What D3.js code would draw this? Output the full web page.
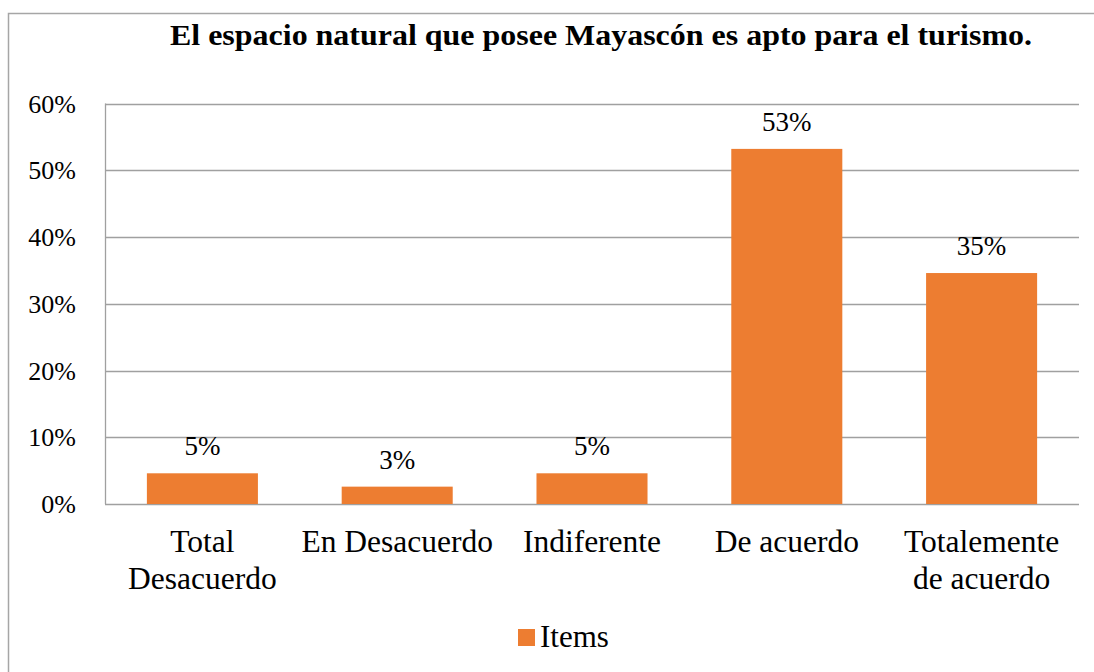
<!DOCTYPE html>
<html>
<head>
<meta charset="utf-8">
<script src="https://cdn.jsdelivr.net/npm/d3@7"></script>
<style>
  body { margin: 0; background: #fff; }
  svg text { font-family: "Liberation Serif", "Times New Roman", serif; fill: #000; }
</style>
</head>
<body>
<svg id="chart" width="1094" height="672"></svg>
<script>
// chart data
var categories = [["Total", "Desacuerdo"], ["En Desacuerdo"], ["Indiferente"], ["De acuerdo"], ["Totalemente", "de acuerdo"]];
var values = [0.046, 0.026, 0.046, 0.532, 0.346];
var valueLabels = ["5%", "3%", "5%", "53%", "35%"];
var yTicks = [0, 0.1, 0.2, 0.3, 0.4, 0.5, 0.6];
var seriesName = "Items";
var title = "El espacio natural que posee Mayascón es apto para el turismo.";

var svg = d3.select("#chart");

// outer chart border
svg.append("rect")
    .attr("x", 8.5).attr("y", 13.5)
    .attr("width", 1200).attr("height", 800)
    .style("fill", "none")
    .style("stroke", "#a6a6a6")
    .style("stroke-width", 1.5);

var plotLeft = 105, plotRight = 1079, plotTop = 103.5, plotBottom = 504;

var x = d3.scaleBand()
    .domain(d3.range(categories.length))
    .range([plotLeft, plotRight])
    .paddingInner(0.43)
    .paddingOuter(0.215);

var y = d3.scaleLinear()
    .domain([0, 0.6])
    .range([plotBottom, plotTop]);

// gridlines
svg.append("g")
    .selectAll("line")
    .data(yTicks)
    .join("line")
    .attr("x1", plotLeft)
    .attr("x2", plotRight)
    .attr("y1", d => Math.round(y(d)) + 0.5)
    .attr("y2", d => Math.round(y(d)) + 0.5)
    .style("stroke", "#a0a0a0")
    .style("stroke-width", 1.3);

// vertical axis line
svg.append("line")
    .attr("x1", plotLeft + 0.5).attr("x2", plotLeft + 0.5)
    .attr("y1", y(0.6)).attr("y2", y(0))
    .style("stroke", "#a0a0a0")
    .style("stroke-width", 1.3);

// y tick labels
svg.append("g")
    .selectAll("text")
    .data(yTicks)
    .join("text")
    .attr("x", 76)
    .attr("y", d => y(d) + 9)
    .attr("text-anchor", "end")
    .style("font-size", "26px")
    .text(d3.format(".0%"));

// bars
svg.append("g")
    .selectAll("rect")
    .data(values)
    .join("rect")
    .attr("x", (d, i) => x(i))
    .attr("y", d => y(d))
    .attr("width", x.bandwidth())
    .attr("height", d => y(0) - y(d))
    .style("fill", "#ED7D31");

// value labels
svg.append("g")
    .selectAll("text")
    .data(values)
    .join("text")
    .attr("x", (d, i) => x(i) + x.bandwidth() / 2)
    .attr("y", d => y(d) - 18)
    .attr("text-anchor", "middle")
    .style("font-size", "27px")
    .text((d, i) => valueLabels[i]);

// category labels
var cat = svg.append("g")
    .selectAll("text")
    .data(categories)
    .join("text")
    .attr("text-anchor", "middle")
    .style("font-size", "31.5px");

cat.each(function (lines, i) {
    var cx = x(i) + x.bandwidth() / 2;
    d3.select(this).selectAll("tspan")
        .data(lines)
        .join("tspan")
        .attr("x", cx)
        .attr("y", (d, j) => 552 + j * 36.5)
        .text(d => d);
});

// title
svg.append("text")
    .attr("x", 601)
    .attr("y", 45)
    .attr("text-anchor", "middle")
    .attr("textLength", 862)
    .attr("lengthAdjust", "spacingAndGlyphs")
    .style("font-size", "29px")
    .style("font-weight", "bold")
    .text(title);

// legend
svg.append("rect")
    .attr("x", 518).attr("y", 629)
    .attr("width", 17).attr("height", 17)
    .style("fill", "#ED7D31");
svg.append("text")
    .attr("x", 540).attr("y", 647)
    .style("font-size", "31px")
    .text(seriesName);
</script>
</body>
</html>
